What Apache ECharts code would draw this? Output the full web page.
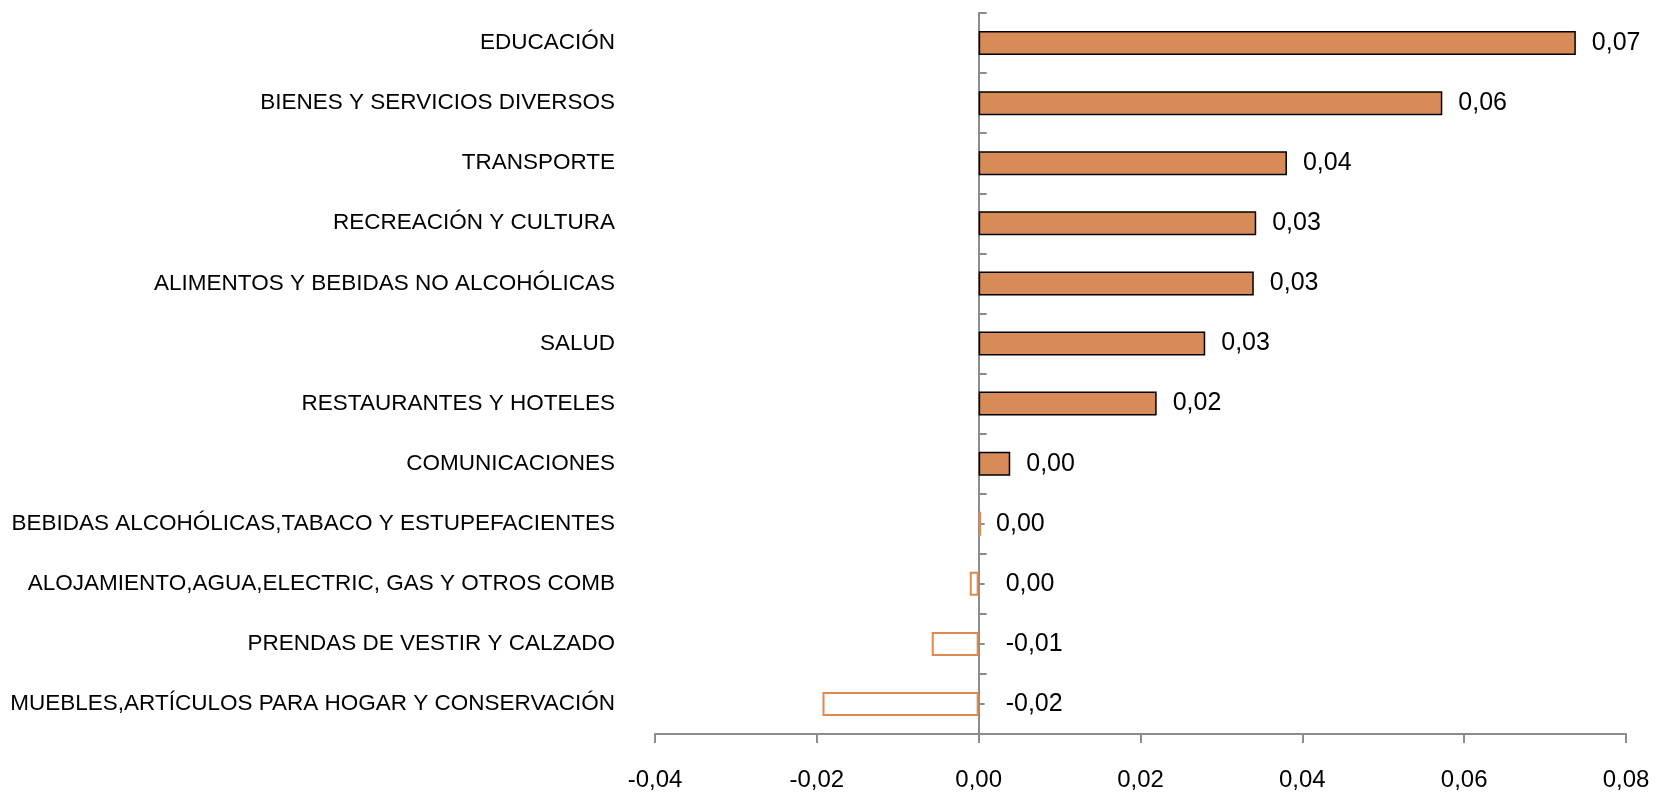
<!DOCTYPE html>
<html>
<head>
<meta charset="utf-8">
<title>Incidencia por división</title>
<script src="https://cdn.jsdelivr.net/npm/echarts@6/dist/echarts.min.js"></script>
<style>
  html, body { margin: 0; padding: 0; background: #fff; }
  #chart { width: 1656px; height: 792px; }
</style>
</head>
<body>
<div id="chart"></div>
<script>
// datos (de arriba hacia abajo)
const categories = [
  'EDUCACIÓN',
  'BIENES Y SERVICIOS DIVERSOS',
  'TRANSPORTE',
  'RECREACIÓN Y CULTURA',
  'ALIMENTOS Y BEBIDAS NO ALCOHÓLICAS',
  'SALUD',
  'RESTAURANTES Y HOTELES',
  'COMUNICACIONES',
  'BEBIDAS ALCOHÓLICAS,TABACO Y ESTUPEFACIENTES',
  'ALOJAMIENTO,AGUA,ELECTRIC, GAS Y OTROS COMB',
  'PRENDAS DE VESTIR Y CALZADO',
  'MUEBLES,ARTÍCULOS PARA HOGAR Y CONSERVACIÓN'
];
const values = [0.0738, 0.0573, 0.0381, 0.0343, 0.0340, 0.0280, 0.0220, 0.0039, 0.0003, -0.0011, -0.0058, -0.0193];
const xMin = -0.04;
const xMax = 0.08;
const xStep = 0.02;

const fontFamily = '"Liberation Sans", Arial, sans-serif';
const axisGray = '#8c8c8c';
const barOrange = '#d78b57';
const edgeOrange = '#e0894e';

// área del gráfico
const gridLeft = 655, gridRight = 30;
const gridWidth = 1656 - gridLeft - gridRight;
// desplazamiento para llevar las marcas centrales hasta el cero
const zeroOffset = -gridWidth * (0 - xMin) / (xMax - xMin);

// formato con coma decimal, sin "-0,00"
const fmt = (v) => {
  let s = v.toFixed(2);
  if (s === '-0.00') s = '0.00';
  return s.replace('.', ',');
};

const barData = values.map((v) => {
  if (v < 0 || Math.abs(v) < 0.001) {
    return {
      value: v,
      itemStyle: { color: v < 0 ? '#ffffff' : edgeOrange, borderColor: edgeOrange, borderWidth: 2 },
      label: { distance: v < 0 ? 27 : 15 }
    };
  }
  return { value: v };
});

const myChart = echarts.init(document.getElementById('chart'));
const option = {
  animation: false,
  backgroundColor: '#ffffff',
  grid: { left: gridLeft, right: gridRight, top: 13, bottom: 58, containLabel: false },
  xAxis: {
    type: 'value',
    min: xMin,
    max: xMax,
    interval: xStep,
    splitLine: { show: false },
    axisLine: { show: true, onZero: false, lineStyle: { color: axisGray, width: 2 } },
    axisTick: { show: true, length: 9, lineStyle: { color: axisGray, width: 2 } },
    axisLabel: {
      margin: 34,
      color: '#000',
      fontSize: 24,
      fontFamily: fontFamily,
      formatter: (v) => fmt(v)
    }
  },
  yAxis: [
    {
      // etiquetas de categoría, al borde izquierdo del área
      type: 'category',
      position: 'left',
      data: categories,
      inverse: true,
      axisLine: { show: false, onZero: false },
      axisTick: { show: false },
      axisLabel: { margin: 40, color: '#000', fontSize: 22.5, fontFamily: fontFamily }
    },
    {
      // eje en cero con marcas entre categorías
      type: 'category',
      position: 'left',
      data: categories,
      inverse: true,
      axisLine: { show: true, onZero: true, lineStyle: { color: axisGray, width: 2 } },
      axisTick: { show: true, inside: true, length: 8, lineStyle: { color: axisGray, width: 2 } },
      axisLabel: { show: false }
    },
    {
      // marcas pequeñas al centro de cada categoría
      type: 'category',
      position: 'left',
      offset: zeroOffset,
      data: categories,
      inverse: true,
      axisLine: { show: false, onZero: false },
      axisTick: { show: true, inside: true, alignWithLabel: true, length: 6, lineStyle: { color: axisGray, width: 2 } },
      axisLabel: { show: false }
    }
  ],
  series: [
    {
      type: 'bar',
      yAxisIndex: 0,
      data: barData,
      barWidth: 24,
      itemStyle: { color: barOrange, borderColor: '#000', borderWidth: 1.5 },
      label: {
        show: true,
        position: 'right',
        distance: 16,
        color: '#000',
        fontSize: 25,
        fontFamily: fontFamily,
        formatter: (p) => fmt(p.value)
      },
      z: 1
    }
  ]
};
myChart.setOption(option);
window.addEventListener('resize', () => myChart.resize());
</script>
</body>
</html>
